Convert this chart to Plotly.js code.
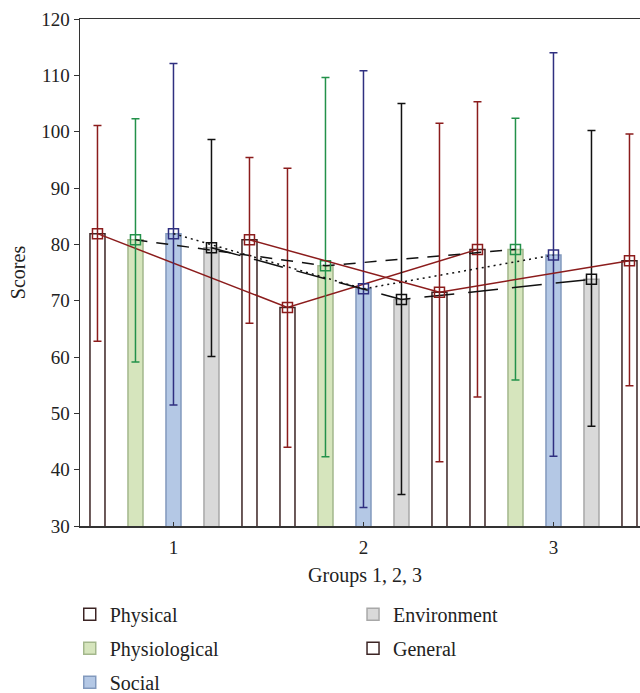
<!DOCTYPE html>
<html>
<head>
<meta charset="utf-8">
<script src="https://cdn.plot.ly/plotly-3.0.1.min.js"></script>
<style>
html, body { margin: 0; padding: 0; overflow: hidden; background: #fff; }
#chart { width: 650px; height: 720px; }
</style>
</head>
<body>
<div id="chart"></div>
<script>
// ---- data ----
const groups = [1, 2, 3];
const groupTickText = ['1', '2', '3'];
const seriesNames = ['Physical', 'Physiological', 'Social', 'Environment', 'General'];

const physicalMean  = [81.9, 68.8, 79.1];
const physicalUpper = [101.1, 93.5, 105.3];
const physicalLower = [62.8, 44.0, 52.9];

const physiologicalMean  = [80.8, 76.2, 79.1];
const physiologicalUpper = [102.3, 109.6, 102.4];
const physiologicalLower = [59.1, 42.3, 55.9];

const socialMean  = [81.9, 72.1, 78.1];
const socialUpper = [112.1, 110.8, 114.0];
const socialLower = [51.5, 33.3, 42.4];

const environmentMean  = [79.4, 70.2, 73.8];
const environmentUpper = [98.6, 105.0, 100.2];
const environmentLower = [60.1, 35.6, 47.7];

const generalMean  = [80.8, 71.5, 77.1];
const generalUpper = [95.4, 101.5, 99.6];
const generalLower = [66.0, 41.4, 54.9];

const yTickVals = [30, 40, 50, 60, 70, 80, 90, 100, 110, 120];

// ---- styles ----
const means  = [physicalMean, physiologicalMean, socialMean, environmentMean, generalMean];
const uppers = [physicalUpper, physiologicalUpper, socialUpper, environmentUpper, generalUpper];
const lowers = [physicalLower, physiologicalLower, socialLower, environmentLower, generalLower];

const barFill    = ['#ffffff', '#d6e5bd', '#b4c8e5', '#d9d9d9', '#ffffff'];
const barLine    = ['#3c2424', '#a3b78c', '#8299bd', '#a8a8a8', '#3c2424'];
const markColor  = ['#8b1c1c', '#23914a', '#2f2f80', '#111111', '#8b1c1c'];
const lineColor  = ['#8b1c1c', '#111111', '#111111', '#111111', '#8b1c1c'];
const lineDash   = ['solid', '12px,9px', '2px,4px', '30px,14px', 'solid'];
const legendOf   = ['legend', 'legend', 'legend', 'legend2', 'legend2'];
const offsetStep = 0.2;
const font = 'Liberation Serif, Times New Roman, serif';

const traces = [];
seriesNames.forEach((name, i) => {
  const xs = groups.map(g => g + (i - 2) * offsetStep);
  traces.push({
    type: 'bar', x: xs, y: means[i], width: 0.079, name: name,
    legend: legendOf[i], legendgroup: name,
    marker: { color: barFill[i], line: { color: barLine[i], width: 1.5 } },
    hoverinfo: 'skip'
  });
});
seriesNames.forEach((name, i) => {
  const xs = groups.map(g => g + (i - 2) * offsetStep);
  traces.push({
    type: 'scatter', mode: 'lines+markers', x: xs, y: means[i], name: name,
    showlegend: false, legend: legendOf[i], legendgroup: name,
    line: { color: lineColor[i], width: 1.5, dash: lineDash[i] },
    marker: { symbol: 'square-open', size: 10, color: markColor[i], line: { width: 1.5, color: markColor[i] } },
    error_y: {
      type: 'data', symmetric: false,
      array: uppers[i].map((u, k) => u - means[i][k]),
      arrayminus: lowers[i].map((l, k) => means[i][k] - l),
      color: markColor[i], thickness: 1.5, width: 4
    }
  });
});

const layout = {
  width: 650, height: 720,
  margin: { l: 80, r: 0, t: 19, b: 194 },
  paper_bgcolor: '#ffffff', plot_bgcolor: '#ffffff',
  font: { family: font, size: 19, color: '#222' },
  barmode: 'overlay',
  showlegend: true,
  xaxis: {
    range: [0.508, 3.508], tickvals: groups, ticktext: groupTickText,
    ticks: 'inside', ticklen: 4, tickcolor: '#333', tickwidth: 1,
    showline: true, linecolor: '#333', linewidth: 1.5, mirror: true,
    showgrid: false, zeroline: false, ticklabelstandoff: 4,
    tickfont: { family: font, size: 19, color: '#222' },
    title: { text: 'Groups 1, 2, 3', font: { family: font, size: 20, color: '#222' }, standoff: 10 }
  },
  yaxis: {
    range: [30, 120], tickvals: yTickVals,
    ticks: 'outside', ticklen: 5, tickcolor: '#333', tickwidth: 1,
    showline: true, linecolor: '#333', linewidth: 1.5, mirror: true,
    showgrid: false, zeroline: false,
    tickfont: { family: font, size: 19, color: '#222' },
    title: { text: 'Scores', font: { family: font, size: 20, color: '#222' }, standoff: 10 }
  },
  yaxis2: {
    overlaying: 'y', side: 'left', anchor: 'x', range: [30, 120], tickvals: yTickVals,
    ticks: 'inside', ticklen: 4, tickcolor: '#333', tickwidth: 1,
    showticklabels: false, showgrid: false, zeroline: false, showline: false
  },
  legend: {
    x: -0.018, xanchor: 'left', y: -0.1355, yanchor: 'top',
    orientation: 'v', tracegroupgap: 5, traceorder: 'grouped',
    font: { family: font, size: 20, color: '#222' }, bgcolor: 'rgba(0,0,0,0)'
  },
  legend2: {
    x: 0.479, xanchor: 'left', y: -0.1355, yanchor: 'top',
    orientation: 'v', tracegroupgap: 5, traceorder: 'grouped',
    font: { family: font, size: 20, color: '#222' }, bgcolor: 'rgba(0,0,0,0)'
  }
};

Plotly.newPlot('chart', traces, layout, { displayModeBar: false, staticPlot: true });
</script>
</body>
</html>
